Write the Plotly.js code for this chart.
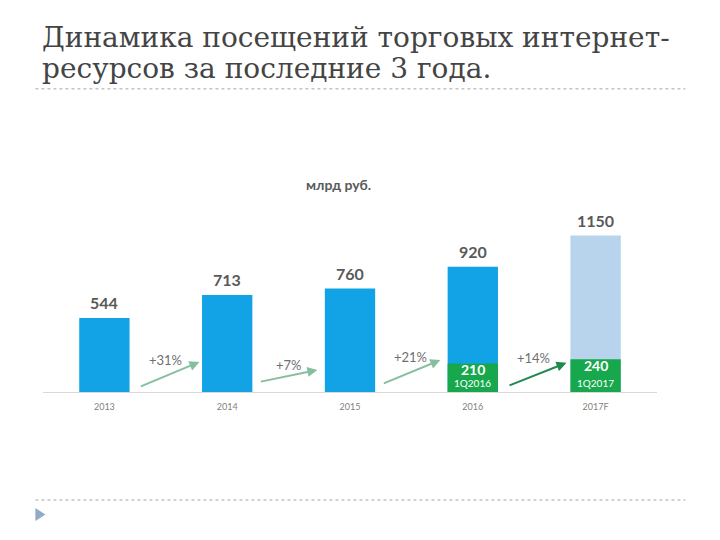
<!DOCTYPE html>
<html>
<head>
<meta charset="utf-8">
<script src="https://cdn.plot.ly/plotly-3.0.1.min.js"></script>
<style>html,body{margin:0;padding:0;background:#fff;}#chart{width:720px;height:540px;}</style>
</head>
<body>
<div id="chart"></div>
<script>
// ---- data ----
const categories = ["2013", "2014", "2015", "2016", "2017F"];
const totals = [544, 713, 760, 920, 1150];
const q1Values = [null, null, null, 210, 240];
const q1Labels = [null, null, null, "1Q2016", "1Q2017"];
const growthLabels = ["+31%", "+7%", "+21%", "+14%"];
const titleLines = ["Динамика посещений торговых интернет-", "ресурсов за последние 3 года."];
const unitLabel = "млрд руб.";

// ---- styling ----
const blue = "#12a3e6";
const lightBlue = "#b8d3ec";
const green = "#17a84d";
const totalColors = totals.map((v, i) => i === totals.length - 1 ? lightBlue : blue);

const traces = [
  {
    type: "bar", x: categories, y: totals, width: 0.41,
    marker: {color: totalColors}, hoverinfo: "skip", showlegend: false
  },
  {
    type: "bar", x: categories, y: q1Values, width: 0.41,
    marker: {color: green}, hoverinfo: "skip", showlegend: false
  }
];

const annotations = [];
const numFont = {family: "Lato, 'Open Sans', sans-serif", size: 16, color: "#595959"};

// totals labels
totals.forEach((v, i) => {
  annotations.push({
    x: i, y: v, xref: "x", yref: "y", text: "<b>" + v + "</b>", showarrow: false,
    yanchor: "middle", yshift: 15, font: numFont
  });
});
// q1 labels inside green bars
q1Values.forEach((v, i) => {
  if (v === null) return;
  annotations.push({
    x: i, y: v, xref: "x", yref: "y", text: "<b>" + v + "</b>", showarrow: false,
    yanchor: "middle", yshift: -6, font: {family: "Lato, sans-serif", size: 14, color: "#ffffff"}
  });
  annotations.push({
    x: i, y: 0, xref: "x", yref: "y", text: q1Labels[i], showarrow: false,
    yanchor: "middle", yshift: 9, font: {family: "Lato, sans-serif", size: 10, color: "#ffffff"}
  });
});

// growth arrows (placed between categories)
const arrowSpecs = [
  {hx: 0.774, hy: 221, tx: 0.285, ty: 37, lx: 0.497, ly: 235, color: "#86bfa0"},
  {hx: 1.734, hy: 162, tx: 1.262, ty: 74, lx: 1.507, ly: 199, color: "#86bfa0"},
  {hx: 2.736, hy: 235, tx: 2.263, ty: 59, lx: 2.492, ly: 257, color: "#86bfa0"},
  {hx: 3.763, hy: 215, tx: 3.287, ty: 44, lx: 3.496, ly: 250, color: "#1f8a4f"}
];
arrowSpecs.forEach((a, i) => {
  annotations.push({
    x: a.hx, y: a.hy, ax: a.tx, ay: a.ty, xref: "x", yref: "y", axref: "x", ayref: "y",
    showarrow: true, arrowhead: 2, arrowsize: 1, arrowwidth: 2, arrowcolor: a.color, text: ""
  });
  annotations.push({
    x: a.lx, y: a.ly, xref: "x", yref: "y", text: growthLabels[i], showarrow: false,
    font: {family: "Lato, 'Open Sans', sans-serif", size: 13, color: "#6f6f6f"}
  });
});

// unit label
annotations.push({
  x: 1.906, y: 1522, xref: "x", yref: "y", text: "<b>" + unitLabel + "</b>", showarrow: false,
  font: {family: "Lato, 'Open Sans', sans-serif", size: 14, color: "#595959"}
});

// slide title (two lines)
const PH = 244.8; // plot height px
const py = p => (392 - p) / PH;
const px = p => (p - 42.6) / 614;
annotations.push({
  x: px(40), y: py(38), xref: "paper", yref: "paper", xanchor: "left", yanchor: "middle",
  text: titleLines[0], showarrow: false,
  font: {family: "'DejaVu Serif', serif", size: 28, color: "#444444"}
});
annotations.push({
  x: px(40), y: py(69), xref: "paper", yref: "paper", xanchor: "left", yanchor: "middle",
  text: titleLines[1], showarrow: false,
  font: {family: "'DejaVu Serif', serif", size: 28, color: "#444444"}
});

const shapes = [
  {type: "line", xref: "paper", yref: "paper", x0: px(35), x1: px(685), y0: py(89), y1: py(89),
   line: {color: "#c4c4c4", width: 1.5, dash: "dot"}},
  {type: "line", xref: "paper", yref: "paper", x0: px(35), x1: px(685), y0: py(500), y1: py(500),
   line: {color: "#c4c4c4", width: 1.5, dash: "dot"}},
  {type: "path", xref: "paper", yref: "paper",
   path: "M " + px(35) + "," + py(508) + " L " + px(45) + "," + py(514.5) + " L " + px(35) + "," + py(521) + " Z",
   fillcolor: "#8faacb", line: {width: 0}}
];

const layout = {
  width: 720, height: 540,
  margin: {l: 42.6, r: 63.4, t: 147.2, b: 148, pad: 0},
  paper_bgcolor: "#ffffff", plot_bgcolor: "#ffffff",
  barmode: "overlay",
  showlegend: false,
  xaxis: {
    type: "category", range: [-0.5, 4.5], showgrid: false, zeroline: false,
    showline: true, linecolor: "#d9d9d9", linewidth: 1, ticks: "",
    ticklabelstandoff: 6,
    tickfont: {family: "Lato, 'Open Sans', sans-serif", size: 9, color: "#7f7f7f"},
    fixedrange: true
  },
  yaxis: {range: [0, 1800], visible: false, fixedrange: true},
  annotations: annotations,
  shapes: shapes
};

Plotly.newPlot("chart", traces, layout, {displayModeBar: false, staticPlot: true});
</script>
</body>
</html>
